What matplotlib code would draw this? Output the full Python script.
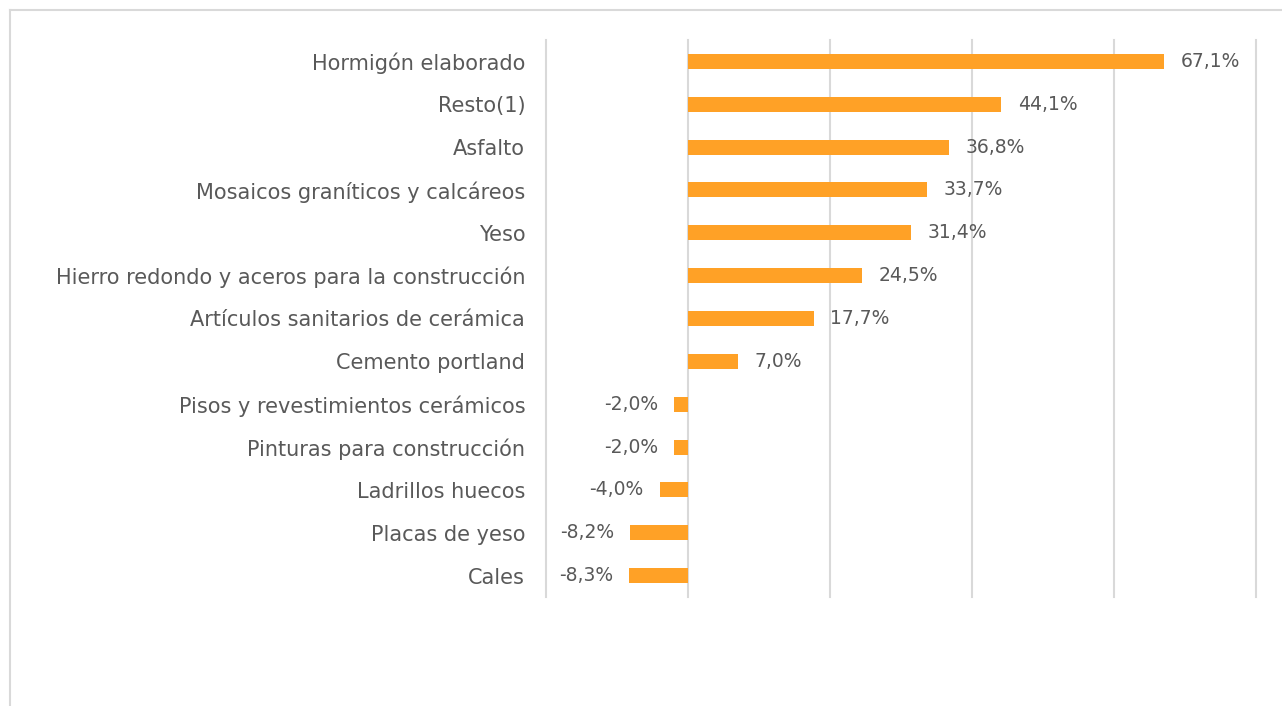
import numpy as np
import matplotlib.pyplot as plt
from matplotlib.lines import Line2D

# Datos
categorias = ['Hormigón elaborado', 'Resto(1)', 'Asfalto',
              'Mosaicos graníticos y calcáreos', 'Yeso',
              'Hierro redondo y aceros para la construcción',
              'Artículos sanitarios de cerámica', 'Cemento portland',
              'Pisos y revestimientos cerámicos', 'Pinturas para construcción',
              'Ladrillos huecos', 'Placas de yeso', 'Cales']
valores = [67.1, 44.1, 36.8, 33.7, 31.4, 24.5, 17.7, 7.0,
           -2.0, -2.0, -4.0, -8.2, -8.3]
ticks_x = [-20, 0, 20, 40, 60, 80]

color_barra = '#FFA126'
color_texto = '#595959'
color_grid = '#D9D9D9'

plt.rcParams['font.family'] = ['DejaVu Sans']
fs = 15

fig = plt.figure(figsize=(12.82, 7.06), dpi=100)
ax = fig.add_axes([546 / 1282, 1 - 597 / 706, 710 / 1282, 557 / 706])

y = np.arange(len(categorias))
ax.barh(y, valores, height=0.35, color=color_barra, zorder=3)

ax.set_xlim(ticks_x[0], ticks_x[-1])
ax.set_ylim(len(categorias) - 0.5, -0.5)
ax.set_xticks(ticks_x)
ax.tick_params(axis='x', length=0, labelbottom=False)
ax.tick_params(axis='y', length=0, pad=15, labelsize=fs, labelcolor=color_texto)
ax.set_yticks(y)
ax.set_yticklabels(categorias)
ax.grid(axis='x', color=color_grid, linewidth=1.5, zorder=0)
for gl in ax.get_xgridlines():
    gl.set_clip_on(False)
for s in ax.spines.values():
    s.set_visible(False)

for yi, v in zip(y, valores):
    txt = f'{v:.1f}%'.replace('.', ',')
    if v >= 0:
        ax.annotate(txt, (v, yi), xytext=(12, 0), textcoords='offset points',
                    ha='left', va='center', fontsize=13.5, color=color_texto)
    else:
        ax.annotate(txt, (v, yi), xytext=(-11.5, 0), textcoords='offset points',
                    ha='right', va='center', fontsize=13.5, color=color_texto)

# borde del gráfico
fig.add_artist(Line2D([10 / 1282, 10 / 1282], [0, 1 - 10 / 706],
                      transform=fig.transFigure, color=color_grid, linewidth=1.5))
fig.add_artist(Line2D([10 / 1282, 1], [1 - 10 / 706, 1 - 10 / 706],
                      transform=fig.transFigure, color=color_grid, linewidth=1.5))

fig.savefig('out.png', dpi=100)
